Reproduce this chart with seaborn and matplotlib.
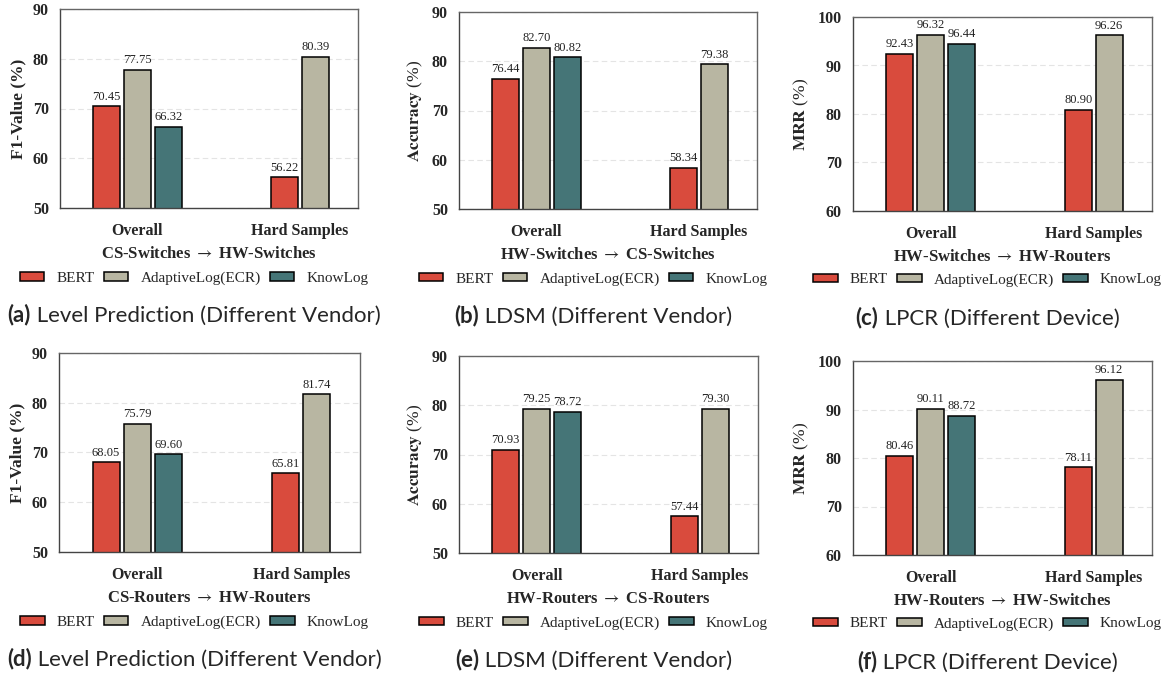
import matplotlib
matplotlib.use("Agg")
import matplotlib.pyplot as plt
from matplotlib.offsetbox import TextArea, HPacker, AnnotationBbox
import numpy as np
import pandas as pd
import seaborn as sns

MODELS = ["BERT", "AdaptiveLog(ECR)", "KnowLog"]
GROUPS = ["Overall", "Hard Samples"]
PALETTE = {"BERT": "#D94B3D", "AdaptiveLog(ECR)": "#B8B6A2", "KnowLog": "#457577"}

# values per panel: BERT / AdaptiveLog(ECR) over [Overall, Hard Samples]; KnowLog only Overall
BERT_A, ADA_A, KNOW_A = [70.45, 56.22], [77.75, 80.39], [66.32]
BERT_B, ADA_B, KNOW_B = [76.44, 58.34], [82.70, 79.38], [80.82]
BERT_C, ADA_C, KNOW_C = [92.43, 80.90], [96.32, 96.26], [94.44]
BERT_D, ADA_D, KNOW_D = [68.05, 65.81], [75.79, 81.74], [69.60]
BERT_E, ADA_E, KNOW_E = [70.93, 57.44], [79.25, 79.30], [78.72]
BERT_F, ADA_F, KNOW_F = [80.46, 78.11], [90.11, 96.12], [88.72]
# the printed label in panel (c) does not match its bar
KNOW_C_TEXT = ["96.44"]

ARROW = r" $\rightarrow$ "
PANELS = [
    ("a", BERT_A, ADA_A, KNOW_A, None, "F1-Value (%)", "CS-Switches" + ARROW + "HW-Switches",
     "Level Prediction (Different Vendor)", (50, 90)),
    ("b", BERT_B, ADA_B, KNOW_B, None, "Accuracy", "HW-Switches" + ARROW + "CS-Switches",
     "LDSM (Different Vendor)", (50, 90)),
    ("c", BERT_C, ADA_C, KNOW_C, KNOW_C_TEXT, "MRR", "HW-Switches" + ARROW + "HW-Routers",
     "LPCR (Different Device)", (60, 100)),
    ("d", BERT_D, ADA_D, KNOW_D, None, "F1-Value (%)", "CS-Routers" + ARROW + "HW-Routers",
     "Level Prediction (Different Vendor)", (50, 90)),
    ("e", BERT_E, ADA_E, KNOW_E, None, "Accuracy", "HW-Routers" + ARROW + "CS-Routers",
     "LDSM (Different Vendor)", (50, 90)),
    ("f", BERT_F, ADA_F, KNOW_F, None, "MRR", "HW-Routers" + ARROW + "HW-Switches",
     "LPCR (Different Device)", (60, 100)),
]

# axes boxes in pixels (left, right, top, bottom) on a 1169x677 canvas
BOXES = [(60, 358, 9, 208), (459, 757, 12, 209), (853, 1152, 17, 211),
         (59, 360, 353, 552), (459, 758, 356, 553), (853, 1152, 361, 555)]
W, H = 1169, 677
STEP, BAR_W = 0.19, 0.165

sns.set_style("white")
plt.rcParams.update({
    "font.family": ["Liberation Serif", "DejaVu Sans"],
    "mathtext.fontset": "stix",
    "axes.edgecolor": "#444444",
    "axes.linewidth": 1.0,
})


def panel_frame(bert, ada, know):
    rows = []
    for gi, g in enumerate(GROUPS):
        present = [(m, v[gi]) for m, v in zip(MODELS, [bert, ada, know]) if gi < len(v)]
        n = len(present)
        for k, (m, val) in enumerate(present):
            rows.append({"model": m, "group": g, "value": val,
                         "pos": gi + (k - (n - 1) / 2) * STEP})
    return pd.DataFrame(rows)


fig = plt.figure(figsize=(W / 100, H / 100), dpi=100)

for (tag, bert, ada, know, know_text, ylab, xlab, caption, ylim), box in zip(PANELS, BOXES):
    l, r, t, b = box
    ax = fig.add_axes([l / W, 1 - b / H, (r - l) / W, (b - t) / H])
    df = panel_frame(bert, ada, know)
    sns.barplot(data=df, x="pos", y="value", hue="model", hue_order=MODELS,
                palette=PALETTE, native_scale=True, dodge=False, errorbar=None,
                width=BAR_W / STEP, edgecolor="black", linewidth=1.1,
                saturation=1, ax=ax)

    for _, row in df.iterrows():
        txt = f"{row['value']:.2f}"
        if know_text is not None and row["model"] == "KnowLog":
            txt = know_text[0]
        ax.annotate(txt, (row["pos"], row["value"]), xytext=(0, 2.5),
                    textcoords="offset points", ha="center", va="bottom",
                    fontsize=9, color="#222222")

    ax.set_xlim(-0.477, 1.358)
    ax.set_ylim(*ylim)
    ax.set_yticks(np.arange(ylim[0], ylim[1] + 1, 10))
    ax.set_xticks(range(len(GROUPS)))
    ax.set_xticklabels(GROUPS, fontweight="bold", fontsize=11.5)
    for lab in ax.get_yticklabels():
        lab.set_fontweight("bold")
        lab.set_fontsize(11.5)
    ax.tick_params(axis="x", length=5, width=1.0, pad=6, color="#333333")
    ax.tick_params(axis="y", length=4, width=1.0, pad=4, color="#333333")
    ax.yaxis.grid(True, ls=(0, (5, 3)), color="#e4e4e4", lw=0.8)
    ax.set_axisbelow(True)
    for s in ["top", "right"]:
        ax.spines[s].set_color("#666666")

    if ylab.endswith("(%)"):
        ax.set_ylabel(ylab, fontweight="bold", fontsize=12.5, labelpad=5)
    else:
        ax.set_ylabel(r"$\mathbf{" + ylab + "}$ (%)", fontsize=12.5, labelpad=5)
    ax.set_xlabel(xlab, fontweight="bold", fontsize=12, labelpad=5)

    sns.move_legend(ax, "center", bbox_to_anchor=(0.45, -0.355), ncol=3,
                    frameon=False, title=None, fontsize=11,
                    handlelength=1.6, handleheight=0.5, handletextpad=0.8,
                    columnspacing=0.6, borderaxespad=0)

    cap = HPacker(children=[
        TextArea(f"({tag})", textprops=dict(family="Lato", fontweight="bold", fontsize=16)),
        TextArea(" " + caption, textprops=dict(family="Lato", fontsize=16)),
    ], align="baseline", pad=0, sep=0)
    ab = AnnotationBbox(cap, (0.45, 0), xycoords="axes fraction",
                        xybox=(0, -77), boxcoords="offset points",
                        box_alignment=(0.5, 0.5), frameon=False)
    ax.add_artist(ab)

fig.savefig("out.png", dpi=100)
